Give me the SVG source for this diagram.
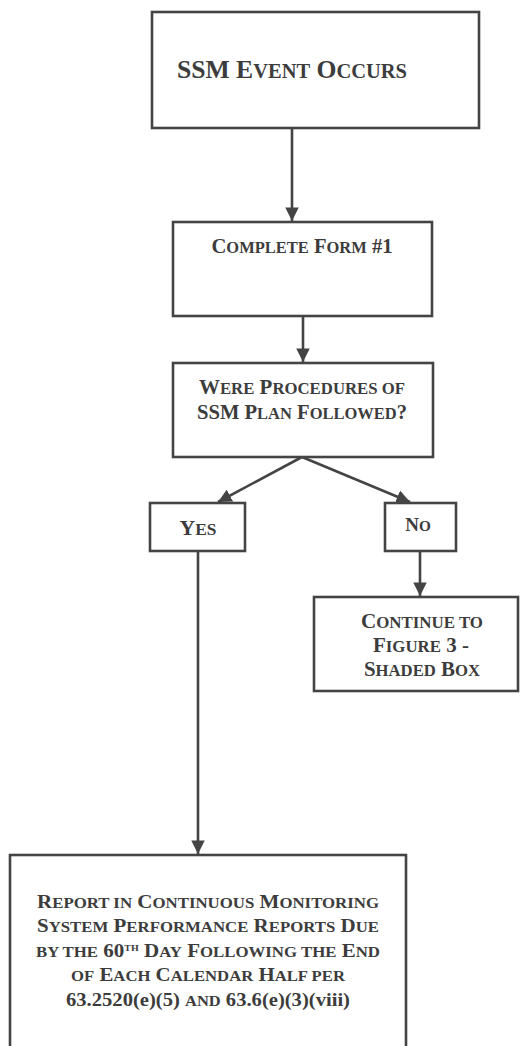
<svg xmlns="http://www.w3.org/2000/svg" width="520" height="1046" viewBox="0 0 520 1046">
<style>
.box{fill:#fff;stroke:#444;stroke-width:2.6}
.edge{stroke:#444;stroke-width:2.6;fill:none}
text{font-family:"Liberation Serif","Times New Roman",serif;font-weight:bold;fill:#3c3c3c;text-anchor:middle}
.sc{font-size:80%}
</style>
<defs>
<marker id="ah" viewBox="0 0 10 10" refX="10" refY="5" markerWidth="5.2" markerHeight="5.2" markerUnits="strokeWidth" orient="auto">
<path d="M0,0 L10,5 L0,10 Z" fill="#444"/>
</marker>
</defs>
<rect width="520" height="1046" fill="#fff"/>
<g id="connectors">
<line class="edge" x1="292" y1="128" x2="292" y2="221" marker-end="url(#ah)"/>
<line class="edge" x1="303" y1="316" x2="303" y2="362" marker-end="url(#ah)"/>
<line class="edge" x1="302" y1="457" x2="218" y2="502" marker-end="url(#ah)"/>
<line class="edge" x1="302" y1="457" x2="410" y2="502" marker-end="url(#ah)"/>
<line class="edge" x1="420" y1="551" x2="420" y2="596" marker-end="url(#ah)"/>
<line class="edge" x1="198" y1="551" x2="198" y2="854" marker-end="url(#ah)"/>
</g>
<g id="n1">
<rect class="box" x="152" y="12" width="327" height="116"/>
<text x="292" y="78" font-size="25.5" textLength="230" lengthAdjust="spacingAndGlyphs">SSM E<tspan class="sc">VENT</tspan> O<tspan class="sc">CCURS</tspan></text>
</g>
<g id="n2">
<rect class="box" x="173" y="222" width="259" height="94"/>
<text x="302" y="253" font-size="20.5" textLength="181" lengthAdjust="spacingAndGlyphs">C<tspan class="sc">OMPLETE</tspan> F<tspan class="sc">ORM</tspan> #1</text>
</g>
<g id="n3">
<rect class="box" x="173" y="363" width="260" height="94"/>
<text x="302" y="394" font-size="20.5" textLength="206" lengthAdjust="spacingAndGlyphs">W<tspan class="sc">ERE</tspan> P<tspan class="sc">ROCEDURES OF</tspan></text>
<text x="302" y="419" font-size="20.5" textLength="210" lengthAdjust="spacingAndGlyphs">SSM P<tspan class="sc">LAN</tspan> F<tspan class="sc">OLLOWED</tspan>?</text>
</g>
<g id="n4">
<rect class="box" x="150" y="503" width="95" height="48"/>
<text x="198" y="535" font-size="20" textLength="37" lengthAdjust="spacingAndGlyphs">Y<tspan class="sc">ES</tspan></text>
</g>
<g id="n5">
<rect class="box" x="385" y="503" width="71" height="48"/>
<text x="418" y="531" font-size="19">N<tspan class="sc">O</tspan></text>
</g>
<g id="n6">
<rect class="box" x="314" y="597" width="204" height="94"/>
<text x="422" y="628" font-size="20" textLength="122" lengthAdjust="spacingAndGlyphs">C<tspan class="sc">ONTINUE TO</tspan></text>
<text x="421" y="652" font-size="20" textLength="96" lengthAdjust="spacingAndGlyphs">F<tspan class="sc">IGURE</tspan> 3 -</text>
<text x="422" y="676" font-size="20" textLength="116" lengthAdjust="spacingAndGlyphs">S<tspan class="sc">HADED</tspan> B<tspan class="sc">OX</tspan></text>
</g>
<g id="n7">
<rect class="box" x="10" y="855" width="396" height="200"/>
<text x="208" y="908" font-size="19" textLength="342" lengthAdjust="spacingAndGlyphs">R<tspan class="sc">EPORT IN</tspan> C<tspan class="sc">ONTINUOUS</tspan> M<tspan class="sc">ONITORING</tspan></text>
<text x="208" y="932" font-size="19" textLength="342" lengthAdjust="spacingAndGlyphs">S<tspan class="sc">YSTEM</tspan> P<tspan class="sc">ERFORMANCE</tspan> R<tspan class="sc">EPORTS</tspan> D<tspan class="sc">UE</tspan></text>
<text x="208" y="957" font-size="19" textLength="344" lengthAdjust="spacingAndGlyphs"><tspan class="sc">BY THE</tspan> 60<tspan font-size="9" dy="-6">TH</tspan><tspan dy="6"> D</tspan><tspan class="sc">AY</tspan> F<tspan class="sc">OLLOWING THE</tspan> E<tspan class="sc">ND</tspan></text>
<text x="208" y="981" font-size="19" textLength="274" lengthAdjust="spacingAndGlyphs"><tspan class="sc">OF</tspan> E<tspan class="sc">ACH</tspan> C<tspan class="sc">ALENDAR</tspan> H<tspan class="sc">ALF PER</tspan></text>
<text x="208" y="1006" font-size="19" textLength="284" lengthAdjust="spacingAndGlyphs">63.2520(e)(5) <tspan class="sc">AND</tspan> 63.6(e)(3)(viii)</text>
</g>
</svg>
